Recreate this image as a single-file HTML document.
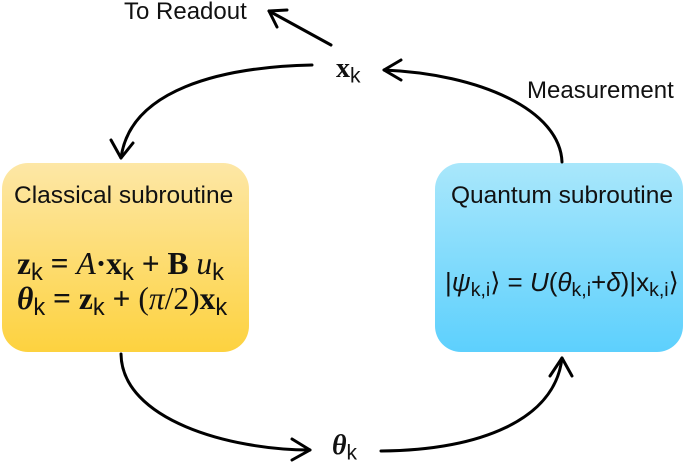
<!DOCTYPE html>
<html><head><style>
body{margin:0;width:685px;height:463px;background:#fff;overflow:hidden;position:relative;font-family:"Liberation Sans",sans-serif}
.box{position:absolute;border-radius:26px}
.t{position:absolute;white-space:nowrap;color:#111;line-height:1}
.m{font-family:"Liberation Serif","DejaVu Serif",serif;font-weight:bold}
sub{font-family:"Liberation Sans",sans-serif;font-weight:normal;font-size:0.75em;vertical-align:-0.25em}
</style></head><body>
<div class="box" style="left:2px;top:163px;width:247px;height:189px;background:linear-gradient(#fde7a6,#fdd23f)"></div>
<div class="box" style="left:435px;top:163px;width:248px;height:189px;background:linear-gradient(#a9e7fb,#5dd0fd)"></div>
<svg width="685" height="463" style="position:absolute;left:0;top:0" fill="none" stroke="#000" stroke-width="3" stroke-linecap="round" stroke-linejoin="round">
<path d="M331 45 L269 11"/><path d="M277 27 L269 11 L287 10"/>
<path d="M312 65 C220 67 130 90 121 158"/><path d="M111 140 L121 158 L133 143"/>
<path d="M562 162 C560 110 480 74 384 70"/><path d="M401 60 L384 70 L401 80"/>
<path d="M121 354 C122 420 230 450 310 450"/><path d="M292 439 L310 450 L292 460"/>
<path d="M381 451 C480 450 555 420 562 358"/><path d="M550 376 L562 358 L572 376"/>
</svg>
<div class="t" style="left:124px;top:0px;font-size:24px">To Readout</div>
<div class="t" style="left:527px;top:79px;font-size:24px">Measurement</div>
<div class="t m" style="left:336px;top:55px;font-size:28px">x<sub>k</sub></div>
<div class="t m" style="left:332px;top:432px;font-size:28px"><i>θ</i><sub>k</sub></div>
<div class="t" style="left:14px;top:184px;font-size:24.5px">Classical subroutine</div>
<div class="t m" style="left:17px;top:248px;font-size:31.5px">z<sub>k</sub> = <i style="font-weight:normal">A</i>·x<sub>k</sub> + B <i style="font-weight:normal">u</i><sub>k</sub></div>
<div class="t m" style="left:17px;top:283px;font-size:31.5px"><i>θ</i><sub>k</sub> = z<sub>k</sub> + <span style="font-weight:normal">(<i>π</i>/2)</span>x<sub>k</sub></div>
<div class="t" style="left:451px;top:184px;font-size:24.5px">Quantum subroutine</div>
<div class="t" style="left:445px;top:269px;font-size:26px">|<i>ψ</i><sub>k,i</sub>⟩ = <i>U</i>(<i>θ</i><sub>k,i</sub>+<i>δ</i>)|x<sub>k,i</sub>⟩</div>
</body></html>
